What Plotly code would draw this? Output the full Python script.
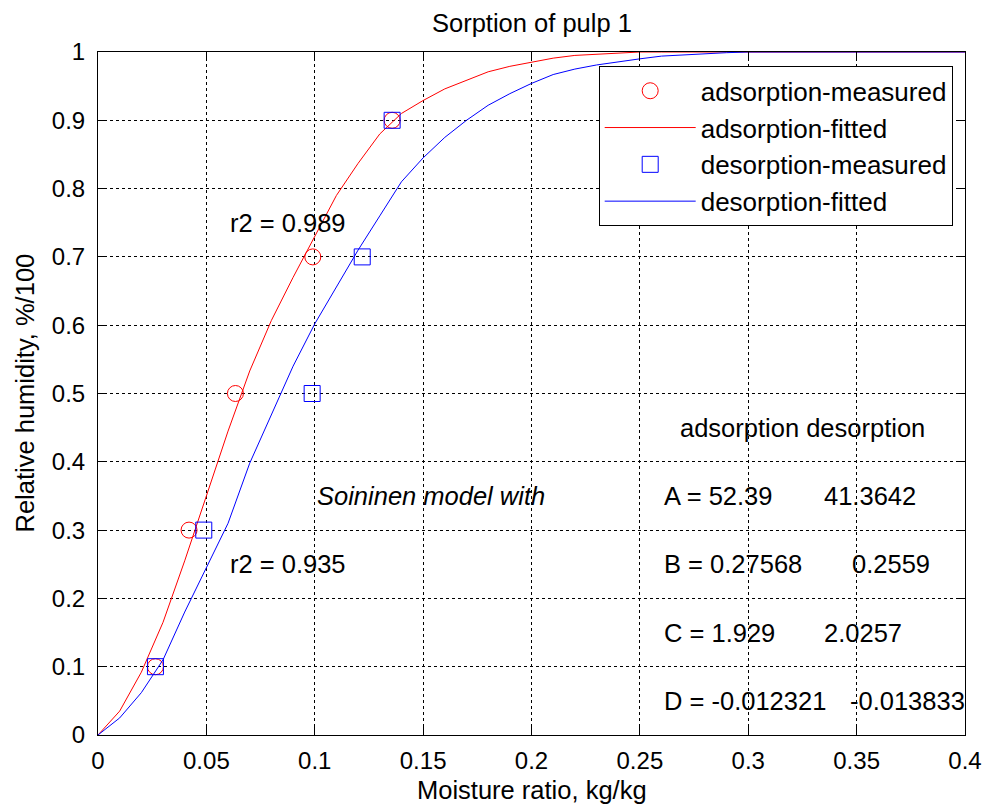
import plotly.graph_objects as go

# ---- data ----
ads_meas_x = [0.0265, 0.0420, 0.0634, 0.0991, 0.1357]
ads_meas_y = [0.1, 0.3, 0.5, 0.7, 0.9]
des_meas_x = [0.0265, 0.0488, 0.0988, 0.1219, 0.1357]
des_meas_y = [0.1, 0.3, 0.5, 0.7, 0.9]

fit_x = [0.00, 0.01, 0.02, 0.03, 0.04, 0.05, 0.06, 0.07, 0.08, 0.09,
         0.10, 0.11, 0.12, 0.13, 0.14, 0.15, 0.16, 0.17, 0.18, 0.19,
         0.20, 0.21, 0.22, 0.23, 0.24, 0.25, 0.26, 0.27, 0.28, 0.29,
         0.30, 0.40]
ads_fit_y = [0.000, 0.035, 0.092, 0.165, 0.255, 0.350, 0.445, 0.533, 0.607, 0.670,
             0.730, 0.790, 0.837, 0.880, 0.910, 0.929, 0.946, 0.959, 0.971, 0.979,
             0.985, 0.991, 0.995, 0.997, 0.999, 1.000, 1.000, 1.000, 1.000, 1.000,
             1.000, 1.000]
des_fit_y = [0.000, 0.025, 0.062, 0.110, 0.180, 0.245, 0.310, 0.398, 0.470, 0.540,
             0.602, 0.657, 0.710, 0.760, 0.810, 0.845, 0.875, 0.900, 0.922, 0.939,
             0.954, 0.967, 0.975, 0.981, 0.986, 0.990, 0.994, 0.996, 0.998, 0.999,
             1.000, 1.000]

x_ticks = [0, 0.05, 0.1, 0.15, 0.2, 0.25, 0.3, 0.35, 0.4]
x_tick_labels = ["0", "0.05", "0.1", "0.15", "0.2", "0.25", "0.3", "0.35", "0.4"]
y_ticks = [0, 0.1, 0.2, 0.3, 0.4, 0.5, 0.6, 0.7, 0.8, 0.9, 1]
y_tick_labels = ["0", "0.1", "0.2", "0.3", "0.4", "0.5", "0.6", "0.7", "0.8", "0.9", "1"]

FONT = "Liberation Sans, Arial, Helvetica, sans-serif"
FS = 25.5
RED = "#FF0000"
BLUE = "#0000FF"

fig = go.Figure()
fig.add_trace(go.Scatter(x=ads_meas_x, y=ads_meas_y, mode="markers",
                         name="adsorption-measured",
                         marker=dict(symbol="circle-open", size=16, color=RED,
                                     line=dict(width=1, color=RED))))
fig.add_trace(go.Scatter(x=fit_x, y=ads_fit_y, mode="lines",
                         name="adsorption-fitted",
                         line=dict(color=RED, width=1)))
fig.add_trace(go.Scatter(x=des_meas_x, y=des_meas_y, mode="markers",
                         name="desorption-measured",
                         marker=dict(symbol="square-open", size=16, color=BLUE,
                                     line=dict(width=1, color=BLUE))))
fig.add_trace(go.Scatter(x=fit_x, y=des_fit_y, mode="lines",
                         name="desorption-fitted",
                         line=dict(color=BLUE, width=1)))

axis_common = dict(showline=True, linecolor="black", linewidth=1, mirror="ticks",
                   ticks="inside", ticklen=8, tickcolor="black", tickwidth=1,
                   showgrid=True, gridcolor="black", gridwidth=1, griddash="dot",
                   zeroline=False, tickfont=dict(family=FONT, size=24, color="black"))

fig.update_xaxes(range=[0, 0.4], tickvals=x_ticks, ticktext=x_tick_labels,
                 ticklabelstandoff=4, automargin=False, **axis_common)
fig.update_yaxes(range=[0, 1], tickvals=y_ticks, ticktext=y_tick_labels,
                 ticklabelstandoff=7, automargin=False, **axis_common)

annots = [
    dict(text="Sorption of pulp 1", x=0.5, y=1, xref="paper", yref="paper",
         xanchor="center", yanchor="middle", yshift=29, showarrow=False),
    dict(text="Moisture ratio, kg/kg", x=0.5, y=0, xref="paper", yref="paper",
         xanchor="center", yanchor="middle", yshift=-55, showarrow=False),
    dict(text="Relative humidity, %/100", x=0, y=0.5, xref="paper", yref="paper",
         xanchor="center", yanchor="middle", xshift=-74, textangle=-90, showarrow=False),
    dict(text="r2 = 0.989", x=0.06, y=0.75),
    dict(text="r2 = 0.935", x=0.06, y=0.25),
    dict(text="<i>Soininen model with</i>", x=0.1, y=0.35),
    dict(text="adsorption desorption", x=0.2676, y=0.45),
    dict(text="A = 52.39", x=0.26, y=0.35),
    dict(text="41.3642", x=0.334, y=0.35),
    dict(text="B = 0.27568", x=0.26, y=0.25),
    dict(text="0.2559", x=0.347, y=0.25),
    dict(text="C = 1.929", x=0.26, y=0.15),
    dict(text="2.0257", x=0.334, y=0.15),
    dict(text="D = -0.012321", x=0.26, y=0.05),
    dict(text="-0.013833", x=0.346, y=0.05),
]
for a in annots:
    a.setdefault("xref", "x")
    a.setdefault("yref", "y")
    a.setdefault("xanchor", "left")
    a.setdefault("yanchor", "middle")
    a.setdefault("showarrow", False)
    a["font"] = dict(family=FONT, size=FS, color="black")
    fig.add_annotation(**a)

fig.update_layout(
    width=986, height=807,
    margin=dict(l=98, r=21, t=52, b=72, autoexpand=False),
    paper_bgcolor="white", plot_bgcolor="white",
    font=dict(family=FONT, size=FS, color="black"),
    showlegend=True,
    legend=dict(x=0.5775, y=0.979, xanchor="left", yanchor="top",
                bgcolor="white", bordercolor="black", borderwidth=1,
                font=dict(family=FONT, size=26, color="black"),
                itemwidth=91, tracegroupgap=0),
)

fig.write_html("out.html")
